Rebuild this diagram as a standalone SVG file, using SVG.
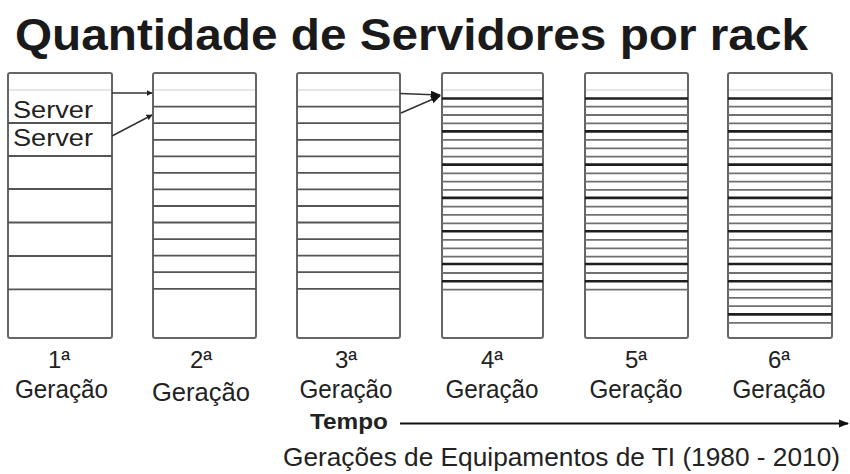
<svg xmlns="http://www.w3.org/2000/svg" width="850" height="474" viewBox="0 0 850 474">
<defs>
<style>
.t{font-family:"Liberation Sans",Arial,sans-serif;fill:#222}
.title{font-family:"Liberation Sans",Arial,sans-serif;font-weight:bold;font-size:45px;fill:#1a1a1a}
.lbl{font-size:25px;text-anchor:middle}
.ord{font-size:24px;text-anchor:middle}
.frame{fill:#fff;stroke:#666;stroke-width:2}
.sep{stroke:#555;stroke-width:1.8}
.faint{stroke:#ddd;stroke-width:1.5}
.thin{stroke:#707070;stroke-width:1.8}
.dark{stroke:#1e1e1e;stroke-width:2.6}
.arr{stroke:#333;stroke-width:1.5;fill:none}
</style>
<marker id="ah" viewBox="0 0 10 10" refX="9" refY="5" markerWidth="6" markerHeight="6" orient="auto" markerUnits="userSpaceOnUse">
<path d="M0,0 L10,5 L0,10 z" fill="#222"/>
</marker>
<marker id="ah2" viewBox="0 0 10 10" refX="9" refY="5" markerWidth="10" markerHeight="10" orient="auto" markerUnits="userSpaceOnUse">
<path d="M0,1 L10,5 L0,9 z" fill="#111"/>
</marker>
</defs>
<rect width="850" height="474" fill="#fff"/>
<text class="title" x="15" y="50" textLength="793" lengthAdjust="spacingAndGlyphs">Quantidade de Servidores por rack</text>

<g id="rack1">
<rect class="frame" x="8" y="73" width="104" height="265" rx="2"/>
<line class="faint" x1="9" y1="90" x2="111" y2="90"/>
<g class="sep">
<line x1="8" y1="123" x2="112" y2="123"/>
<line x1="8" y1="156" x2="112" y2="156"/>
<line x1="8" y1="189" x2="112" y2="189"/>
<line x1="8" y1="222.5" x2="112" y2="222.5"/>
<line x1="8" y1="256" x2="112" y2="256"/>
<line x1="8" y1="289.3" x2="112" y2="289.3"/>
</g>
<text class="t" x="13" y="118" font-size="24" textLength="80" lengthAdjust="spacingAndGlyphs">Server</text>
<text class="t" x="13" y="146" font-size="24" textLength="80" lengthAdjust="spacingAndGlyphs">Server</text>
<text class="t ord" x="59" y="368">1ª</text>
<text class="t lbl" x="61.5" y="398" textLength="93" lengthAdjust="spacingAndGlyphs">Geração</text>
</g>

<g id="rack2">
<rect class="frame" x="153" y="73" width="103" height="265" rx="2"/>
<line class="faint" x1="154" y1="90" x2="255" y2="90"/>
<g class="sep">
<line x1="153" y1="106.7" x2="256" y2="106.7"/>
<line x1="153" y1="123.2" x2="256" y2="123.2"/>
<line x1="153" y1="139.8" x2="256" y2="139.8"/>
<line x1="153" y1="156.3" x2="256" y2="156.3"/>
<line x1="153" y1="172.9" x2="256" y2="172.9"/>
<line x1="153" y1="189.4" x2="256" y2="189.4"/>
<line x1="153" y1="206" x2="256" y2="206"/>
<line x1="153" y1="222.5" x2="256" y2="222.5"/>
<line x1="153" y1="239.1" x2="256" y2="239.1"/>
<line x1="153" y1="255.6" x2="256" y2="255.6"/>
<line x1="153" y1="272.2" x2="256" y2="272.2"/>
<line x1="153" y1="288.8" x2="256" y2="288.8"/>
</g>
<text class="t ord" x="201" y="368">2ª</text>
<text class="t lbl" x="201" y="401" textLength="98" lengthAdjust="spacingAndGlyphs">Geração</text>
</g>

<g id="rack3">
<rect class="frame" x="297" y="73" width="103" height="265" rx="2"/>
<line class="faint" x1="298" y1="90" x2="399" y2="90"/>
<g class="sep">
<line x1="297" y1="106.7" x2="400" y2="106.7"/>
<line x1="297" y1="123.2" x2="400" y2="123.2"/>
<line x1="297" y1="139.8" x2="400" y2="139.8"/>
<line x1="297" y1="156.3" x2="400" y2="156.3"/>
<line x1="297" y1="172.9" x2="400" y2="172.9"/>
<line x1="297" y1="189.4" x2="400" y2="189.4"/>
<line x1="297" y1="206" x2="400" y2="206"/>
<line x1="297" y1="222.5" x2="400" y2="222.5"/>
<line x1="297" y1="239.1" x2="400" y2="239.1"/>
<line x1="297" y1="255.6" x2="400" y2="255.6"/>
<line x1="297" y1="272.2" x2="400" y2="272.2"/>
<line x1="297" y1="288.8" x2="400" y2="288.8"/>
</g>
<text class="t ord" x="346" y="368">3ª</text>
<text class="t lbl" x="346" y="398" textLength="93" lengthAdjust="spacingAndGlyphs">Geração</text>
</g>

<g id="rack4">
<rect class="frame" x="442" y="73" width="101" height="265" rx="2"/>
<line class="faint" x1="443" y1="90" x2="542" y2="90"/>
<g class="thin">
<line x1="442" y1="106.6" x2="543" y2="106.6"/><line x1="442" y1="115" x2="543" y2="115"/><line x1="442" y1="123.3" x2="543" y2="123.3"/>
<line x1="442" y1="139.9" x2="543" y2="139.9"/><line x1="442" y1="148.3" x2="543" y2="148.3"/><line x1="442" y1="156.6" x2="543" y2="156.6"/>
<line x1="442" y1="173.3" x2="543" y2="173.3"/><line x1="442" y1="181.6" x2="543" y2="181.6"/><line x1="442" y1="189.9" x2="543" y2="189.9"/>
<line x1="442" y1="206.6" x2="543" y2="206.6"/><line x1="442" y1="214.9" x2="543" y2="214.9"/><line x1="442" y1="223.3" x2="543" y2="223.3"/>
<line x1="442" y1="239.9" x2="543" y2="239.9"/><line x1="442" y1="248.3" x2="543" y2="248.3"/><line x1="442" y1="256.6" x2="543" y2="256.6"/>
<line x1="442" y1="273" x2="543" y2="273"/><line x1="442" y1="289.6" x2="543" y2="289.6"/>
</g>
<g class="dark">
<line x1="442" y1="98.5" x2="543" y2="98.5"/><line x1="442" y1="131.4" x2="543" y2="131.4"/><line x1="442" y1="164.6" x2="543" y2="164.6"/>
<line x1="442" y1="197.9" x2="543" y2="197.9"/><line x1="442" y1="231.2" x2="543" y2="231.2"/><line x1="442" y1="264" x2="543" y2="264"/>
<line x1="442" y1="281.2" x2="543" y2="281.2"/>
</g>
<text class="t ord" x="492" y="368">4ª</text>
<text class="t lbl" x="492" y="398" textLength="93" lengthAdjust="spacingAndGlyphs">Geração</text>
</g>

<g id="rack5">
<rect class="frame" x="585" y="73" width="103" height="265" rx="2"/>
<line class="faint" x1="586" y1="90" x2="687" y2="90"/>
<g class="thin">
<line x1="585" y1="106.6" x2="688" y2="106.6"/><line x1="585" y1="115" x2="688" y2="115"/><line x1="585" y1="123.3" x2="688" y2="123.3"/>
<line x1="585" y1="139.9" x2="688" y2="139.9"/><line x1="585" y1="148.3" x2="688" y2="148.3"/><line x1="585" y1="156.6" x2="688" y2="156.6"/>
<line x1="585" y1="173.3" x2="688" y2="173.3"/><line x1="585" y1="181.6" x2="688" y2="181.6"/><line x1="585" y1="189.9" x2="688" y2="189.9"/>
<line x1="585" y1="206.6" x2="688" y2="206.6"/><line x1="585" y1="214.9" x2="688" y2="214.9"/><line x1="585" y1="223.3" x2="688" y2="223.3"/>
<line x1="585" y1="239.9" x2="688" y2="239.9"/><line x1="585" y1="248.3" x2="688" y2="248.3"/><line x1="585" y1="256.6" x2="688" y2="256.6"/>
<line x1="585" y1="273" x2="688" y2="273"/><line x1="585" y1="289.6" x2="688" y2="289.6"/>
</g>
<g class="dark">
<line x1="585" y1="98.5" x2="688" y2="98.5"/><line x1="585" y1="131.4" x2="688" y2="131.4"/><line x1="585" y1="164.6" x2="688" y2="164.6"/>
<line x1="585" y1="197.9" x2="688" y2="197.9"/><line x1="585" y1="231.2" x2="688" y2="231.2"/><line x1="585" y1="264" x2="688" y2="264"/>
<line x1="585" y1="281.2" x2="688" y2="281.2"/>
</g>
<text class="t ord" x="636" y="368">5ª</text>
<text class="t lbl" x="636" y="398" textLength="93" lengthAdjust="spacingAndGlyphs">Geração</text>
</g>

<g id="rack6">
<rect class="frame" x="728" y="73" width="104" height="265" rx="2"/>
<line class="faint" x1="729" y1="90" x2="831" y2="90"/>
<g class="thin">
<line x1="728" y1="106.6" x2="832" y2="106.6"/><line x1="728" y1="115" x2="832" y2="115"/><line x1="728" y1="123.3" x2="832" y2="123.3"/>
<line x1="728" y1="139.9" x2="832" y2="139.9"/><line x1="728" y1="148.3" x2="832" y2="148.3"/><line x1="728" y1="156.6" x2="832" y2="156.6"/>
<line x1="728" y1="173.3" x2="832" y2="173.3"/><line x1="728" y1="181.6" x2="832" y2="181.6"/><line x1="728" y1="189.9" x2="832" y2="189.9"/>
<line x1="728" y1="206.6" x2="832" y2="206.6"/><line x1="728" y1="214.9" x2="832" y2="214.9"/><line x1="728" y1="223.3" x2="832" y2="223.3"/>
<line x1="728" y1="239.9" x2="832" y2="239.9"/><line x1="728" y1="248.3" x2="832" y2="248.3"/><line x1="728" y1="256.6" x2="832" y2="256.6"/>
<line x1="728" y1="273" x2="832" y2="273"/><line x1="728" y1="289.6" x2="832" y2="289.6"/>
<line x1="728" y1="297.8" x2="832" y2="297.8"/><line x1="728" y1="306.2" x2="832" y2="306.2"/><line x1="728" y1="322.8" x2="832" y2="322.8"/>
</g>
<g class="dark">
<line x1="728" y1="98.5" x2="832" y2="98.5"/><line x1="728" y1="131.4" x2="832" y2="131.4"/><line x1="728" y1="164.6" x2="832" y2="164.6"/>
<line x1="728" y1="197.9" x2="832" y2="197.9"/><line x1="728" y1="231.2" x2="832" y2="231.2"/><line x1="728" y1="264" x2="832" y2="264"/>
<line x1="728" y1="281.2" x2="832" y2="281.2"/><line x1="728" y1="314.4" x2="832" y2="314.4"/>
</g>
<text class="t ord" x="779" y="368">6ª</text>
<text class="t lbl" x="779" y="398" textLength="93" lengthAdjust="spacingAndGlyphs">Geração</text>
</g>

<g id="connectors">
<line class="arr" x1="112" y1="93" x2="152" y2="93" marker-end="url(#ah)"/>
<line class="arr" x1="112" y1="136" x2="152" y2="115" marker-end="url(#ah)"/>
<line class="arr" x1="400" y1="93.5" x2="440" y2="95" marker-end="url(#ah2)"/>
<line class="arr" x1="401" y1="113" x2="440" y2="96" marker-end="url(#ah2)"/>
<line x1="400" y1="423.5" x2="848" y2="423.5" stroke="#111" stroke-width="2" marker-end="url(#ah2)"/>
</g>

<g id="axis-labels">
<text class="t" x="310" y="429" font-size="22" font-weight="bold" textLength="78" lengthAdjust="spacingAndGlyphs">Tempo</text>
<text class="t" x="283" y="466" font-size="26" textLength="557" lengthAdjust="spacingAndGlyphs">Gerações de Equipamentos de TI (1980 - 2010)</text>
</g>
</svg>
